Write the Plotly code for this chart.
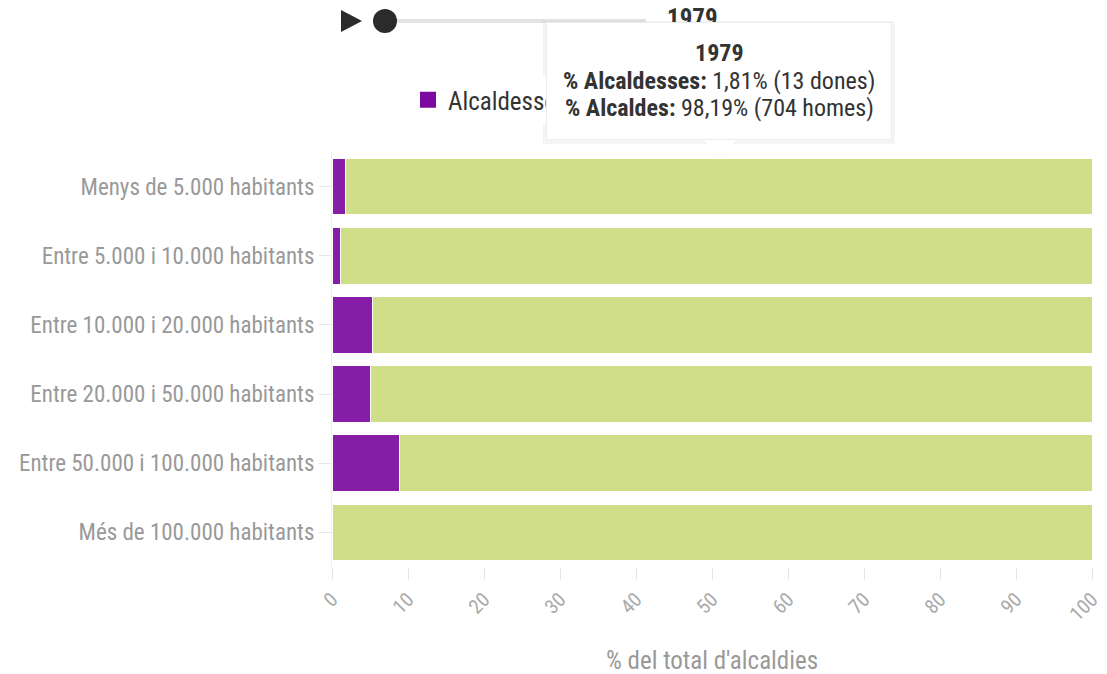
import plotly.graph_objects as go

# Population bands (municipality size)
categories = [
    "Menys de 5.000 habitants",
    "Entre 5.000 i 10.000 habitants",
    "Entre 10.000 i 20.000 habitants",
    "Entre 20.000 i 50.000 habitants",
    "Entre 50.000 i 100.000 habitants",
    "Més de 100.000 habitants",
]
# Share of mayors who are women / men, 1979 (%)
pct_alcaldesses = [1.81, 1.1, 5.3, 5.0, 8.9, 0.0]
pct_alcaldes = [round(100 - v, 2) for v in pct_alcaldesses]

year = "1979"
dones_band0 = 13
homes_band0 = 704
x_ticks = list(range(0, 101, 10))

PURPLE = "#7b0aa0"
GREEN = "#cddc80"
FONT = "Roboto Condensed, Liberation Sans Narrow, Roboto, sans-serif"

W, H = 1107, 674
L, R, T, B = 332, 15, 152, 107
PW, PH = W - L - R, H - T - B


def fx(p):
    return (p - L) / PW


def fy(p):
    return (H - B - p) / PH


fig = go.Figure()
for name, vals, col in [("Alcaldesses", pct_alcaldesses, PURPLE),
                        ("Alcaldes", pct_alcaldes, GREEN)]:
    fig.add_trace(go.Bar(
        name=name, y=categories, x=vals, orientation="h", legendgroup=name,
        showlegend=False, opacity=0.92,
        marker=dict(color=col, line=dict(color="white", width=1)),
    ))
# Legend keys with larger swatches
for name, col in [("Alcaldesses", PURPLE), ("Alcaldes", GREEN)]:
    fig.add_trace(go.Scatter(
        name=name, x=[None], y=[None], mode="markers", legendgroup=name,
        marker=dict(symbol="square", size=20, color=col),
    ))

# Tooltip text for the first band
tot = dones_band0 + homes_band0
p_d = f"{100 * dones_band0 / tot:.2f}".replace(".", ",")
p_h = f"{100 * homes_band0 / tot:.2f}".replace(".", ",")
tip_lines = [
    f"<b>{year}</b>",
    f"<b>% Alcaldesses:</b> {p_d}% ({dones_band0} dones)",
    f"<b>% Alcaldes:</b> {p_h}% ({homes_band0} homes)",
]

shapes = [
    # play button
    dict(type="path", xref="paper", yref="paper",
         path=f"M {fx(341)} {fy(10)} L {fx(362)} {fy(21)} L {fx(341)} {fy(32)} Z",
         fillcolor="#2b2b2b", line=dict(width=0)),
    # slider track
    dict(type="line", xref="paper", yref="paper", x0=fx(385), x1=fx(646),
         y0=fy(21), y1=fy(21), line=dict(color="#e3e3e3", width=4)),
    # slider knob
    dict(type="circle", xref="paper", yref="paper", x0=fx(373), x1=fx(397),
         y0=fy(9), y1=fy(33), fillcolor="#2b2b2b", line=dict(width=0)),
    # tooltip shadow
    dict(type="rect", xref="paper", yref="paper", x0=fx(543), x1=fx(895),
         y0=fy(21), y1=fy(144), fillcolor="rgba(0,0,0,0.04)", line=dict(width=0)),
    # tooltip pointer
    dict(type="path", xref="paper", yref="paper",
         path=f"M {fx(702)} {fy(139)} L {fx(738)} {fy(139)} L {fx(720)} {fy(157)} Z",
         fillcolor="white", line=dict(color="rgba(0,0,0,0.04)", width=1)),
]


def note(text, xpx, ypx, size, color, **kw):
    return dict(text=text, xref="paper", yref="paper", x=fx(xpx), y=fy(ypx),
                xanchor="center", yanchor="middle", showarrow=False,
                font=dict(family=FONT, size=size, color=color), **kw)


annotations = [
    note(f"<b>{year}</b>", 692, 18, 25, "#333"),
    # tooltip box
    note(" ", 719, 81, 10, "#333", width=344, height=116, bgcolor="white",
         bordercolor="#ececec", borderwidth=1, borderpad=0),
    note("% del total d'alcaldies", L + PW / 2, 660, 25, "#999"),
]
for line, ypx in zip(tip_lines, [53, 81, 108]):
    annotations.append(note(line, 719, ypx, 24, "#333"))

fig.update_layout(
    width=W, height=H,
    margin=dict(l=L, r=R, t=T, b=B, autoexpand=False),
    barmode="stack", bargap=0.18,
    paper_bgcolor="white", plot_bgcolor="white",
    font=dict(family=FONT, color="#999"),
    showlegend=True,
    legend=dict(orientation="h", x=fx(408), xanchor="left", traceorder="normal",
                y=fy(100), yanchor="middle",
                font=dict(family=FONT, size=25, color="#333"), itemwidth=30),
    shapes=shapes, annotations=annotations,
    xaxis=dict(range=[0, 100], tickvals=x_ticks, tickangle=-45, showgrid=False,
               zeroline=False, ticks="outside", ticklen=12, tickcolor="#e6e6e6",
               tickfont=dict(family=FONT, size=20, color="#aaa"), showline=False),
    yaxis=dict(autorange="reversed", ticks="outside", ticklen=12, tickcolor="#e6e6e6",
               showline=True, linecolor="#eeeeee", showgrid=False,
               tickfont=dict(family=FONT, size=23, color="#999")),
)

fig.write_html("out.html")
